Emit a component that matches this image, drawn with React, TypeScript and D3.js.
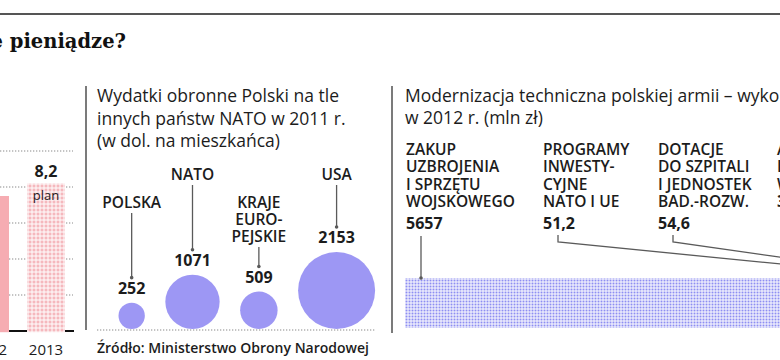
import React from 'react'
import * as d3 from 'd3'

const W = 780
const H = 360
const FONT = '"Open Sans", "Noto Sans", sans-serif'
const INK = '#1c1c1c'
const RULE = '#5a5a5a'

// left panel: defence budget (bn zł)
const years = ['2012', '2013']
const budget = [7.5, 8.2]
const budgetTicks = [2, 4, 6, 8, 10]

// middle panel: spending per capita 2011 (USD)
const countries = [['POLSKA'], ['NATO'], ['KRAJE', 'EURO-', 'PEJSKIE'], ['USA']]
const perCapita = [252, 1071, 509, 2153]

// right panel: modernisation 2012 (mln zł)
const items = [
  ['ZAKUP', 'UZBROJENIA', 'I SPRZĘTU', 'WOJSKOWEGO'],
  ['PROGRAMY', 'INWESTY-', 'CYJNE', 'NATO I UE'],
  ['DOTACJE', 'DO SZPITALI', 'I JEDNOSTEK', 'BAD.-ROZW.'],
  ['AGENCJE', 'I INSTYTUCJE', 'WOJSKOWE'],
]
const spending = [5657, 51.2, 54.6, 35.9]
const itemColX = [406, 543, 658, 777]

const fmt = (v: number) => String(v).replace('.', ',')

function BudgetBars() {
  const x = d3.scaleBand<string>().domain(years).range([-29, 65]).paddingInner(18 / 56)
  const y = d3.scaleLinear().domain([0, 10]).range([331, 151])
  const y0 = y(0)
  return (
    <g>
      {budgetTicks.map(t => (
        <line key={t} x1={0} x2={73} y1={y(t)} y2={y(t)} stroke="#8a8a8a" strokeWidth={1.2} strokeDasharray="1.3 1.7" />
      ))}
      <line x1={0} x2={74} y1={y0} y2={y0} stroke="#111" strokeWidth={2.2} />
      {years.map((yr, i) => {
        const plan = yr === '2013'
        const bx = x(yr)!
        return (
          <g key={yr}>
            <rect x={bx} y={y(budget[i])} width={x.bandwidth()} height={y0 - y(budget[i]) + 1.2}
              fill={plan ? 'url(#pinkDots)' : '#f6acb2'} />
            {plan && <>
              <text x={bx + x.bandwidth() / 2} y={y(budget[i]) - 6} textAnchor="middle" fontFamily={FONT} fontWeight={700} fontSize={16} fill={INK}>{fmt(budget[i])}</text>
              <text x={bx + x.bandwidth() / 2} y={y(budget[i]) + 17} textAnchor="middle" fontFamily={FONT} fontSize={13} fill={INK}>plan</text>
            </>}
            <text x={bx + x.bandwidth() / 2} y={355} textAnchor="middle" fontFamily={FONT} fontSize={15} fill={INK}>{yr}</text>
          </g>
        )
      })}
    </g>
  )
}

function PerCapita() {
  const r = d3.scaleSqrt().domain([0, d3.max(perCapita)!]).range([0, 38.5])
  const base = 329
  const gap = 20.5
  let cursor = 118.5
  const cx = perCapita.map(v => {
    const c = cursor + r(v)
    cursor = c + r(v) + gap
    return c
  })
  return (
    <g>
      <text fontFamily={FONT} fontSize={17.5} fill={INK}>
        <tspan x={97} y={102}>Wydatki obronne Polski na tle</tspan>
        <tspan x={97} y={124.5}>innych państw NATO w 2011 r.</tspan>
        <tspan x={97} y={147}>(w dol. na mieszkańca)</tspan>
      </text>
      <line x1={97} x2={376} y1={base + 1} y2={base + 1} stroke="#8a8a8a" strokeWidth={1.2} strokeDasharray="1.3 1.7" />
      {perCapita.map((v, i) => {
        const top = base - 2 * r(v)
        const valY = top - 9
        const labY = i % 2 === 0 ? 208 : 180
        const lastLab = labY + (countries[i].length - 1) * 17
        return (
          <g key={i}>
            <circle cx={cx[i]} cy={base - r(v)} r={r(v)} fill="#9d97f4" />
            <text x={cx[i]} y={valY} textAnchor="middle" fontFamily={FONT} fontWeight={700} fontSize={16} fill={INK}>{v}</text>
            <line x1={cx[i]} x2={cx[i]} y1={lastLab + 5} y2={valY - 16} stroke={RULE} strokeWidth={1.3} />
            <circle cx={cx[i]} cy={valY - 16} r={1.8} fill={RULE} />
            <text textAnchor="middle" fontFamily={FONT} fontWeight={600} fontSize={15.5} fill={INK}>
              {countries[i].map((l, k) => <tspan key={k} x={cx[i]} y={labY + k * 17}>{l}</tspan>)}
            </text>
          </g>
        )
      })}
      <text x={97} y={353} fontFamily={FONT} fontWeight={600} fontSize={14} fill={INK}>Źródło: Ministerstwo Obrony Narodowej</text>
    </g>
  )
}

function Modernisation() {
  const x = d3.scaleLinear().domain([0, spending[0]]).range([405, 920])
  const ends = d3.cumsum(spending)
  const starts = spending.map((v, i) => ends[i] - v)
  const barTop = 278
  const barH = 50
  const valY = 229
  return (
    <g>
      <text fontFamily={FONT} fontSize={17.5} fill={INK}>
        <tspan x={405} y={102}>Modernizacja techniczna polskiej armii – wykonanie budżetu</tspan>
        <tspan x={405} y={124}>w 2012 r. (mln zł)</tspan>
      </text>
      <rect x={x(0)} y={barTop} width={x(ends[ends.length - 1]) - x(0)} height={barH} fill="url(#blueDots)" />
      {spending.map((v, i) => {
        const lx = itemColX[i]
        const vy = items[i].length === 4 ? valY : 155 + 3 * 17.3
        const px = lx + 15
        const mid = x((starts[i] + ends[i]) / 2)
        const path = i === 0
          ? `M${px},${vy + 7}V${barTop}`
          : `M${px},${vy + 6}V${vy + 13}L${mid},${barTop}`
        return (
          <g key={i}>
            <text fontFamily={FONT} fontWeight={600} fontSize={15.5} fill={INK}>
              {items[i].map((l, k) => <tspan key={k} x={lx} y={155 + k * 17.3}>{l}</tspan>)}
            </text>
            <text x={lx} y={vy} fontFamily={FONT} fontWeight={700} fontSize={16} fill={INK}>{fmt(v)}</text>
            <path d={path} fill="none" stroke={RULE} strokeWidth={1.3} />
            {i === 0 && <circle cx={px} cy={barTop} r={1.8} fill={RULE} />}
          </g>
        )
      })}
    </g>
  )
}

export default function App() {
  return (
    <svg width={W} height={H} style={{ position: 'absolute', left: 0, top: 0, background: '#fff' }}>
      <defs>
        <pattern id="pinkDots" width={4} height={4} patternUnits="userSpaceOnUse">
          <rect width={4} height={4} fill="#fff" />
          <rect x={0.5} y={0.5} width={3} height={3} fill="#f5b8bd" />
        </pattern>
        <pattern id="blueDots" width={3} height={3} patternUnits="userSpaceOnUse">
          <rect width={3} height={3} fill="#fff" />
          <rect x={0.5} y={0.5} width={2} height={2} fill="#8d8ef2" />
        </pattern>
      </defs>
      <rect width={W} height={H} fill="#fff" />
      <line x1={0} x2={W} y1={14} y2={14} stroke="#555" strokeWidth={2} />
      <text x={126} y={48} textAnchor="end" fontFamily='"DejaVu Serif", serif' fontWeight={700} fontSize={19.5} fill="#111">na co idą te pieniądze?</text>
      <line x1={86} x2={86} y1={86} y2={330} stroke={RULE} strokeWidth={1.6} />
      <line x1={392} x2={392} y1={86} y2={333} stroke={RULE} strokeWidth={1.6} />
      <BudgetBars />
      <PerCapita />
      <Modernisation />
    </svg>
  )
}
